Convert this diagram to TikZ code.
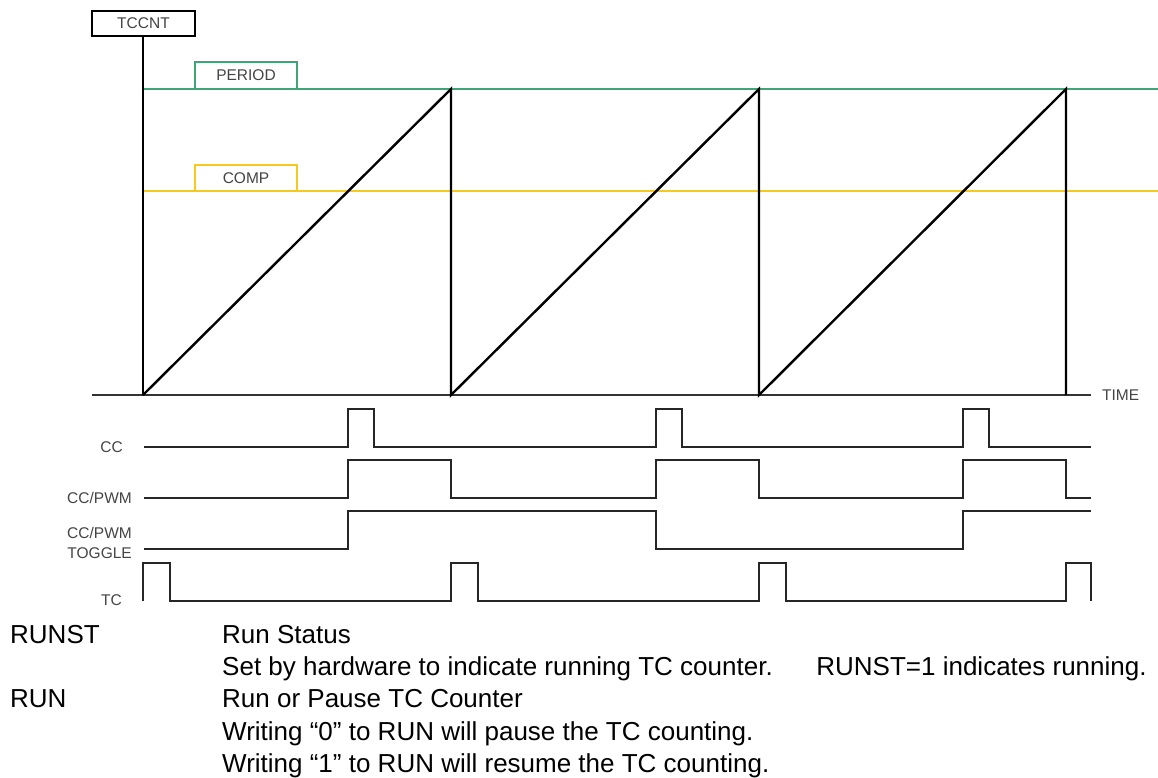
\documentclass[tikz,border=0pt]{standalone}
\usepackage{fontspec}
\setmainfont{Liberation Sans}
\definecolor{pgreen}{HTML}{3FA577}
\definecolor{cyellow}{HTML}{F7C81E}
\definecolor{lbl}{HTML}{444444}
\begin{document}
\begin{tikzpicture}[x=1pt,y=-1pt,
  sig/.style={line width=2pt,draw=black!85,line join=miter},
  saw/.style={line width=2.4pt,draw=black},
  lab/.style={font=\fontsize{15.5}{17}\selectfont,text=lbl,inner sep=0pt},
  txt/.style={font=\fontsize{26}{30}\selectfont,text=black,inner sep=0pt,anchor=base west},
  tagbox/.style={line width=1.8pt,fill=white,inner sep=0pt}]
\useasboundingbox (0,0) rectangle (1158,778);
% reference lines
\draw[line width=2pt,draw=pgreen] (143,89) -- (1158,89);
\draw[line width=2pt,draw=cyellow] (143,191) -- (1158,191);
% axes
\draw[line width=2.2pt,draw=black!80] (92,395) -- (1091,395);
\draw[saw] (143,36) -- (143,395);
% sawtooth
\draw[saw,line join=miter] (143,395) -- (451,89) -- (451,395) -- (759,89) -- (759,395) -- (1066,89) -- (1066,395);
% tag boxes
\draw[tagbox,draw=black] (92,11) rectangle (195,36);
\node[lab] (tccnt) at (143.5,23.5) {TCCNT};
\draw[tagbox,draw=pgreen] (195,62) rectangle (297,89);
\node[lab] (period) at (246,75.5) {PERIOD};
\draw[tagbox,draw=cyellow] (195,165) rectangle (297,191);
\node[lab] (comp) at (246,178) {COMP};
\node[lab,anchor=west] (time) at (1102,395) {TIME};
% signal labels
\node[lab,anchor=east] (cc) at (123,447) {CC};
\node[lab,anchor=east] (ccpwm) at (132,498) {CC/PWM};
\node[lab,anchor=east] (tog1) at (132,533) {CC/PWM};
\node[lab,anchor=east] (tog2) at (132,553) {TOGGLE};
\node[lab,anchor=east] (tc) at (122,600) {TC};
% CC
\draw[sig] (144,447) -- (348,447) -- (348,409) -- (374,409) -- (374,447)
  -- (656,447) -- (656,409) -- (682,409) -- (682,447)
  -- (963,447) -- (963,409) -- (989,409) -- (989,447) -- (1091,447);
% CC/PWM
\draw[sig] (144,498) -- (348,498) -- (348,460) -- (451,460) -- (451,498)
  -- (656,498) -- (656,460) -- (759,460) -- (759,498)
  -- (963,498) -- (963,460) -- (1066,460) -- (1066,498) -- (1091,498);
% CC/PWM toggle
\draw[sig] (144,549) -- (348,549) -- (348,511) -- (656,511) -- (656,549)
  -- (963,549) -- (963,511) -- (1091,511);
% TC
\draw[sig] (143,601) -- (143,563) -- (170,563) -- (170,601)
  -- (451,601) -- (451,563) -- (478,563) -- (478,601)
  -- (759,601) -- (759,563) -- (786,563) -- (786,601)
  -- (1066,601) -- (1066,563) -- (1091,563) -- (1091,601);
% description
\node[txt] (runst) at (10,643) {RUNST};
\node[txt] (d1) at (222,643) {Run Status};
\node[txt] (d2) at (222,675.3) {Set by hardware to indicate running TC counter.\hspace{34pt} RUNST=1 indicates running.};
\node[txt] (run) at (10,707.6) {RUN};
\node[txt] (d3) at (222,707.6) {Run or Pause TC Counter};
\node[txt] (d4) at (222,740) {Writing “0” to RUN will pause the TC counting.};
\node[txt] (d5) at (222,772.3) {Writing “1” to RUN will resume the TC counting.};
\end{tikzpicture}
\end{document}
